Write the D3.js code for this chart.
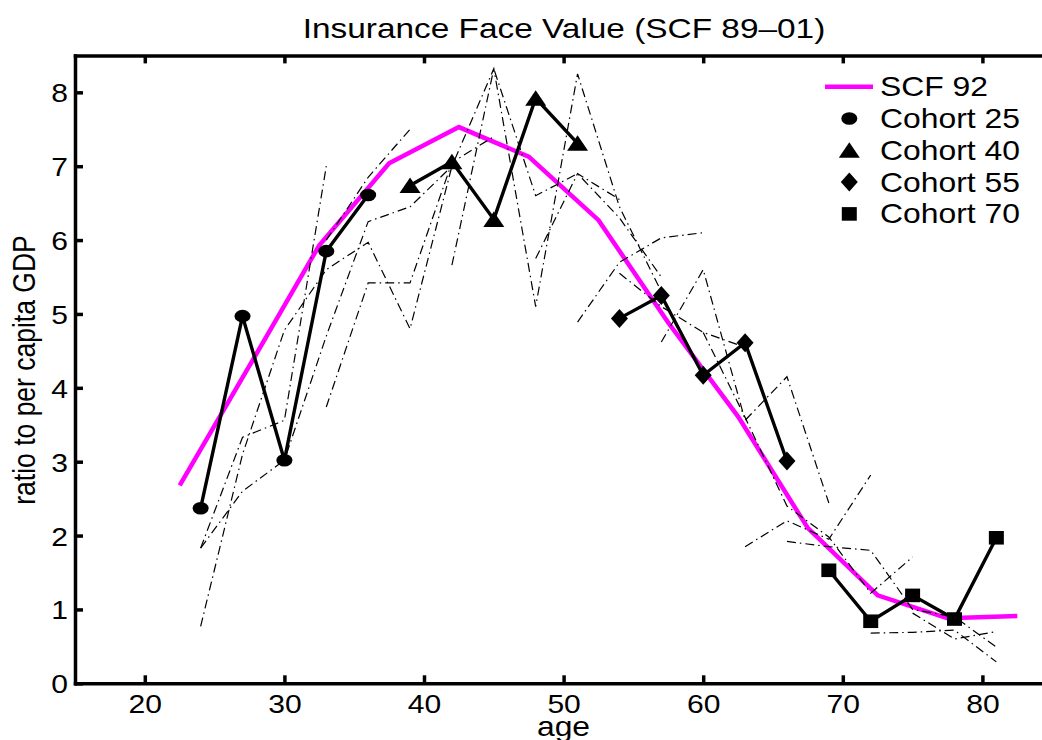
<!DOCTYPE html>
<html>
<head>
<meta charset="utf-8">
<script src="https://cdn.jsdelivr.net/npm/d3@7"></script>
<style>
body { margin: 0; background: #fff; }
svg { display: block; font-family: "Liberation Sans", Arial, Helvetica, sans-serif; }
</style>
</head>
<body>
<svg width="1042" height="740"></svg>
<script>
// SCF 92 cross-section (5-year age groups)
var scfAges = [22.5, 27.5, 32.5, 37.5, 42.5, 47.5, 52.5, 57.5, 62.5, 67.5, 72.5, 77.5, 82.5];
var scf92 = [2.68, 4.30, 5.93, 7.04, 7.53, 7.13, 6.27, 4.88, 3.61, 2.10, 1.19, 0.88, 0.91];

// highlighted cohorts, followed across the 89, 92, 95, 98, 01 surveys
var cohortNames = ["Cohort 25", "Cohort 40", "Cohort 55", "Cohort 70"];
var cohortShapes = ["circle", "triangle", "diamond", "square"];
var cohortAges = [
    [24, 27, 30, 33, 36],
    [39, 42, 45, 48, 51],
    [54, 57, 60, 63, 66],
    [69, 72, 75, 78, 81]
];
var cohortVals = [
    [2.37, 4.97, 3.02, 5.85, 6.61],
    [6.74, 7.06, 6.28, 7.92, 7.31],
    [4.94, 5.25, 4.17, 4.61, 3.01],
    [1.53, 0.84, 1.19, 0.87, 1.97]
];

// the other cohorts (thin dash-dot lines): first age, then one value every 3 years
var otherStart = [24, 24, 24, 33, 33, 42, 48, 51, 54, 57, 60, 63, 66, 72, 75];
var otherVals = [
    [0.77, 3.10, 4.78, 5.60, 5.97, 4.80, 7.00, 8.32, 5.10, 8.25, 6.45, 5.30],
    [1.83, 3.33, 3.56, 7.00],
    [1.83, 2.60, 3.02, 4.70, 6.25, 6.45, 7.00],
    [3.74, 5.42, 5.42, 7.05, 7.40],
    [6.00, 6.85, 7.50],
    [5.66, 8.32, 6.60, 6.90, 6.30, 5.50],
    [5.75, 6.90, 6.55],
    [4.89, 5.70, 6.03, 6.10],
    [5.55, 5.10, 4.75, 4.55],
    [4.62, 5.60, 3.56, 4.15, 2.44],
    [4.75, 3.60, 2.40, 1.98, 1.22, 1.71],
    [1.85, 2.20, 1.95, 2.82],
    [1.92, 1.85, 1.80, 1.00, 0.90, 0.49],
    [0.68, 0.69, 0.72, 0.29],
    [0.95, 0.60, 0.70]
];

var xTicks = [20, 30, 40, 50, 60, 70, 80];
var yTicks = [0, 1, 2, 3, 4, 5, 6, 7, 8];

var svg = d3.select("svg");
var SX = 1.18;   // the figure is a bit wider than tall, text included
var AXW = 3.5;

var x = d3.scaleLinear().domain([15, 85]).range([75, 1052.2]);
var y = d3.scaleLinear().domain([0, 8.5]).range([683.3, 55.4]);

var stretchText = function(g, px, py, str, size, anchor) {
    return g.append("text")
        .attr("transform", "translate(" + px + "," + py + ") scale(" + SX + ",1)")
        .attr("text-anchor", anchor)
        .attr("font-size", size)
        .attr("fill", "#000")
        .text(str);
};

// axes box with inward ticks
var styleAxis = function(g) {
    g.attr("font-family", null).attr("font-size", null);
    g.select(".domain").attr("stroke-width", AXW).attr("stroke-linecap", "square");
    g.selectAll(".tick line").attr("stroke-width", AXW);
};

var gB = svg.append("g").attr("transform", "translate(0," + y(0) + ")")
    .call(d3.axisBottom(x).tickValues(xTicks).tickSizeInner(-8).tickSizeOuter(0));
styleAxis(gB);
gB.selectAll(".tick text")
    .attr("y", 29.7).attr("dy", null)
    .attr("transform", "scale(" + SX + ",1)")
    .attr("font-size", 25.5).attr("fill", "#000");

var gT = svg.append("g").attr("transform", "translate(0," + y(8.5) + ")")
    .call(d3.axisTop(x).tickValues(xTicks).tickSizeInner(-8).tickSizeOuter(0).tickFormat(""));
styleAxis(gT);

var gL = svg.append("g").attr("transform", "translate(" + x(15) + ",0)")
    .call(d3.axisLeft(y).tickValues(yTicks).tickSizeInner(-8).tickSizeOuter(0));
styleAxis(gL);
gL.selectAll(".tick text")
    .attr("x", -7 / SX).attr("y", 9.5).attr("dy", null)
    .attr("transform", "scale(" + SX + ",1)")
    .attr("font-size", 25.5).attr("fill", "#000");

var gR = svg.append("g").attr("transform", "translate(" + x(85) + ",0)")
    .call(d3.axisRight(y).tickValues(yTicks).tickSizeInner(-8).tickSizeOuter(0).tickFormat(""));
styleAxis(gR);

// titles
stretchText(svg, 564, 38, "Insurance Face Value (SCF 89\u201301)", 28.3, "middle");
stretchText(svg, 563.5, 736, "age", 27, "middle");
svg.append("text")
    .attr("transform", "translate(35,370) scale(" + SX + ",1) rotate(-90)")
    .attr("text-anchor", "middle")
    .attr("font-size", 26.5)
    .text("ratio to per capita GDP");

var line = d3.line().x(d => x(d[0])).y(d => y(d[1]));

// SCF 92 in magenta
svg.append("path")
    .attr("fill", "none").attr("stroke", "#ff00ff").attr("stroke-width", 4.5)
    .attr("d", line(scfAges.map((a, i) => [a, scf92[i]])));

// thin lines for the other cohorts
var gOther = svg.append("g");
otherVals.forEach(function(vals, k) {
    var pts = vals.map((v, i) => [otherStart[k] + 3 * i, v]);
    gOther.append("path")
        .attr("fill", "none").attr("stroke", "#000").attr("stroke-width", 1.2)
        .attr("stroke-dasharray", "9,4,1.5,4")
        .attr("d", line(pts));
});

// solid marker shapes, centred on the point
var markerPath = function(shape) {
    if (shape == "circle") return "M-8,0A8,6.3 0 1,0 8,0A8,6.3 0 1,0 -8,0Z";
    if (shape == "triangle") return "M0,-8L10.5,7.5L-10.5,7.5Z";
    if (shape == "diamond") return "M0,-9.5L8.5,0L0,9.5L-8.5,0Z";
    return "M-7.5,-6.8H7.5V6.8H-7.5Z";
};

var drawMarker = function(g, px, py, shape) {
    g.append("path")
        .attr("transform", "translate(" + px + "," + py + ")")
        .attr("d", markerPath(shape))
        .attr("fill", "#000").attr("stroke", "none");
};

var gCoh = svg.append("g");
cohortVals.forEach(function(vals, k) {
    var pts = vals.map((v, i) => [cohortAges[k][i], v]);
    gCoh.append("path")
        .attr("fill", "none").attr("stroke", "#000").attr("stroke-width", 3.4)
        .attr("d", line(pts));
    pts.forEach(function(p) {
        drawMarker(gCoh, x(p[0]), y(p[1]), cohortShapes[k]);
    });
});

// legend
var leg = svg.append("g");
var rowY = function(i) { return 86.7 + i * 31.8; };
leg.append("line")
    .attr("x1", 825).attr("x2", 873).attr("y1", rowY(0)).attr("y2", rowY(0))
    .attr("stroke", "#ff00ff").attr("stroke-width", 4.5);
stretchText(leg, 880, rowY(0) + 9.5, "SCF 92", 27, "start");
cohortNames.forEach(function(name, k) {
    drawMarker(leg, 849.3, rowY(k + 1), cohortShapes[k]);
    stretchText(leg, 880, rowY(k + 1) + 9.5, name, 27, "start");
});
</script>
</body>
</html>
